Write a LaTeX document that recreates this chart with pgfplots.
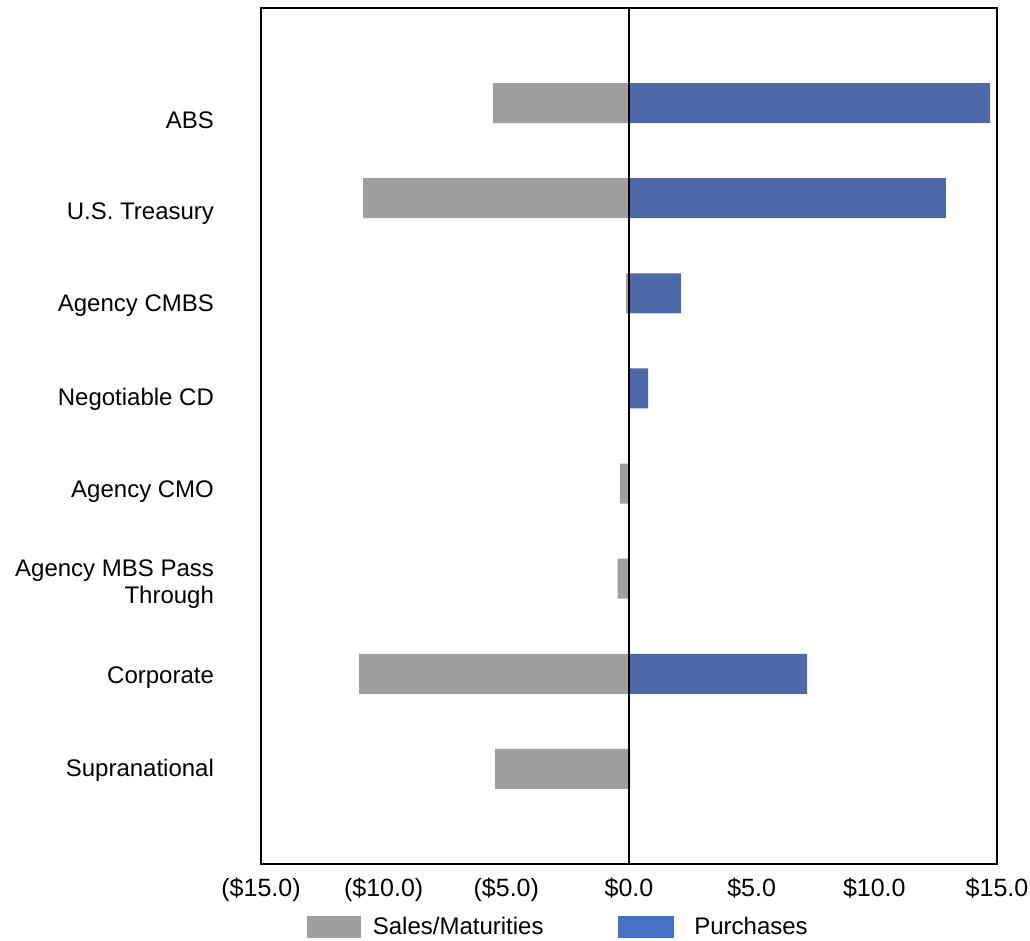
\documentclass[border=0pt]{standalone}
\usepackage{fontspec}
\setmainfont{Liberation Sans}
\usepackage{pgfplots}
\pgfplotsset{compat=1.18}
\definecolor{salesgray}{RGB}{159,159,159}
\definecolor{purchblue}{RGB}{79,104,167}
\definecolor{legblue}{RGB}{68,114,196}
\begin{document}
\begin{tikzpicture}
  \begin{axis}[
      scale only axis,
      width=368pt, height=428pt,
      xmin=-15, xmax=15, ymin=0, ymax=9,
      xbar, bar width=20pt, bar shift=0pt,
      axis line style={black, line width=0.75pt},
      major tick length=0pt,
      xtick={-15,-10,-5,0,5,10,15},
      xticklabels={(\$15.0),(\$10.0),(\$5.0),\$0.0,\$5.0,\$10.0,\$15.0},
      ytick={1.01,1.985,2.96,3.935,4.91,5.895,6.86,7.845},
      yticklabels={Supranational,Corporate,{Agency MBS Pass\\Through},Agency CMO,Negotiable CD,Agency CMBS,U.S. Treasury,ABS},
      yticklabel style={align=right, xshift=-20pt, yshift=-1pt, font=\fontsize{12}{13.5}\selectfont},
      xticklabel style={yshift=-3.5pt, font=\fontsize{12.5}{14}\selectfont},
      legend style={draw=none, inner sep=0pt, at={(0.062,-0.074)}, anchor=west,
        font=\fontsize{12}{13.5}\selectfont, legend columns=2,
        /tikz/every even column/.append style={column sep=35pt}},
      legend cell align=left,
    ]
    % Sales / maturities (negative)
    \addplot[fill=salesgray, draw=none, forget plot] coordinates {
      (-5.46,1) (-11.0,2) (-0.46,3) (-0.37,4) (0,5) (-0.12,6) (-10.84,7) (-5.54,8)};
    % Purchases (positive)
    \addplot[fill=purchblue, draw=none, forget plot] coordinates {
      (0.05,1) (7.26,2) (0,3) (0,4) (0.78,5) (2.12,6) (12.92,7) (14.72,8)};
    \draw[black, line width=1pt] (axis cs:0,0) -- (axis cs:0,9);
    \addlegendimage{legend image code/.code={\fill[salesgray] (0pt,-5.25pt) rectangle (26.5pt,5.25pt);}}
    \addlegendentry{\hspace{4pt}Sales/Maturities}
    \addlegendimage{legend image code/.code={\fill[legblue] (0pt,-5.25pt) rectangle (27.5pt,5.25pt);}}
    \addlegendentry{\hspace{8.5pt}Purchases}
  \end{axis}
  \pgfresetboundingbox
  \path[use as bounding box] (-130.5pt,-38.5pt) rectangle (384.5pt,432pt);
\end{tikzpicture}
\end{document}
